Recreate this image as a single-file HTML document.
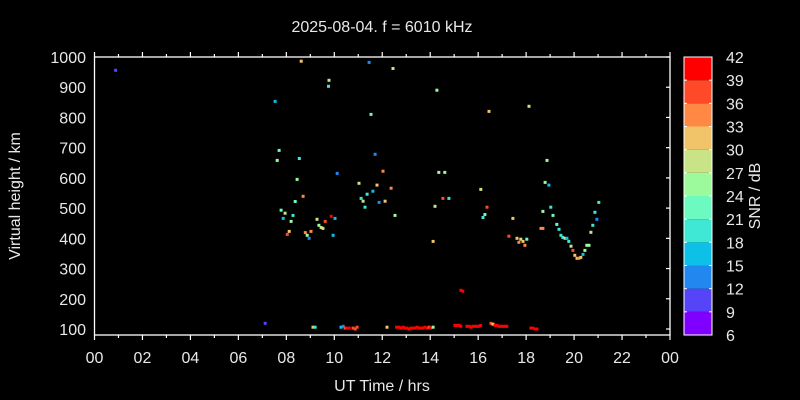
<!DOCTYPE html>
<html><head><meta charset="utf-8"><style>
html,body{margin:0;padding:0;background:#000;}
svg{display:block;font-family:"Liberation Sans",sans-serif;}
</style></head><body>
<svg id="chart" width="800" height="400" viewBox="0 0 800 400">
<rect x="0" y="0" width="800" height="400" fill="#000"/>
<text x="382" y="32" font-size="16" fill="#e8e8e8" text-anchor="middle">2025-08-04. f = 6010 kHz</text>
<text x="382" y="391" font-size="16" fill="#e8e8e8" text-anchor="middle">UT Time / hrs</text>
<text transform="translate(20,196) rotate(-90)" font-size="16" fill="#e8e8e8" text-anchor="middle">Virtual height / km</text>
<text transform="translate(760,196) rotate(-90)" font-size="16" fill="#e8e8e8" text-anchor="middle">SNR / dB</text>
<g id="plot"></g>
<g id="cbar"></g>
</svg>
<script>
const xTicks = ["00","02","04","06","08","10","12","14","16","18","20","22","00"];
const yTicks = [100,200,300,400,500,600,700,800,900,1000];
const cbTicks = [6,9,12,15,18,21,24,27,30,33,36,39,42];
const cbColors = ["#8000ff","#5544f8","#2288f0","#0cc0e8","#3ee8d4","#6cfac0","#9cfa9c","#c8e486","#f2c46a","#ff8844","#ff4a2a","#ff0000"];
const hours = [0.88,8.62,9.78,9.76,7.53,7.7,7.62,8.54,10.12,8.45,8.7,8.37,7.78,7.95,7.87,8.28,8.2,9.28,9.36,9.45,9.53,9.62,9.87,10.03,8.12,8.04,8.79,9.03,8.87,8.95,9.95,7.12,9.11,9.2,
11.45,12.45,14.28,11.53,16.45,18.12,11.7,18.87,12.03,14.36,14.61,11.03,11.78,18.79,18.95,12.37,16.11,11.61,11.37,11.12,11.2,14.53,14.78,11.87,12.12,11.28,14.2,16.37,19.03,12.53,18.7,19.12,16.28,16.2,17.45,21.03,20.87,20.95,19.28,20.78,19.37,18.62,18.7,20.7,19.45,19.53,19.62,19.7,19.78,17.28,17.62,17.7,17.78,17.87,18.03,17.95,14.12,19.87,19.95,20.45,20.53,20.62,20.03,20.12,20.2,20.28,20.37,15.28,15.36,
10.28,10.37,10.45,10.53,10.62,10.78,10.87,10.95,12.2,12.6,12.7,12.78,12.87,12.95,13.03,13.12,13.2,13.28,13.37,13.45,13.53,13.62,13.7,13.78,13.87,13.95,14.03,14.12,15.03,15.12,15.2,15.28,15.53,15.62,15.7,15.78,15.87,15.95,16.03,16.1,16.53,16.62,16.7,16.78,16.87,16.95,17.03,17.12,17.2,18.2,18.28,18.37,18.45];
const heights = [956,986,923,903,853,691,658,664,615,595,539,522,493,483,466,476,456,463,443,436,433,456,473,466,423,413,419,423,410,400,410,119,106,106,
982,962,890,810,820,837,678,658,622,618,618,582,576,585,576,566,562,556,546,532,523,532,532,519,523,503,506,503,503,476,489,476,479,469,466,519,486,463,446,443,430,433,433,420,410,403,400,400,390,407,400,387,397,390,397,377,390,374,360,360,377,377,344,334,334,337,347,228,225,
106,109,103,103,103,103,100,106,106,106,106,103,106,103,103,100,103,103,103,106,103,103,103,106,103,106,103,106,112,112,112,109,109,109,106,109,109,109,109,112,119,116,112,112,109,109,109,109,109,103,103,100,100];
const snrs = [10,31,28,20,16,22,25,20,13,25,35,22,23,28,16,19,25,28,24,27,27,38,41,16,31,37,35,35,24,13,17,10,31,19,
13,28,24,22,31,28,13,24,35,25,25,28,32,24,17,35,28,17,18,20,28,37,20,14,31,19,28,36,19,24,24,23,22,20,31,19,20,14,22,19,19,34,34,28,19,20,28,17,19,38,31,34,28,32,23,34,31,28,37,24,24,24,31,31,34,31,17,41,41,
17,13,38,41,41,38,38,36,31,41,41,41,41,41,41,41,41,41,41,41,41,41,41,41,41,36,41,24,41,41,41,41,41,41,41,41,41,41,41,41,36,31,41,41,41,41,41,41,41,41,41,41,41];
const NS="http://www.w3.org/2000/svg";
const X0=94.5,X1=670,Y0=57,Y1=335;
const xs=h=>X0+(X1-X0)*h/24;
const ys=v=>57+(1000-v)*272/900;
function mk(t,a,p){const e=document.createElementNS(NS,t);for(const k in a)e.setAttribute(k,a[k]);p.appendChild(e);return e;}
const plot=document.getElementById('plot');
const cb=document.getElementById('cbar');
function color(s){let i=Math.floor((s-6)/3);if(i<0)i=0;if(i>11)i=11;return cbColors[i];}
for(let i=0;i<hours.length;i++){
 const r=mk('rect',{x:(xs(hours[i])-1.5).toFixed(1),y:(ys(heights[i])-1.5).toFixed(1),width:3,height:3,fill:color(snrs[i])},plot);
 
 
}
const fr=mk('rect',{x:X0,y:Y0,width:X1-X0,height:Y1-Y0,fill:'none',stroke:'#fff','stroke-width':1.3},plot);


for(let h=0;h<=24;h++){
 const x=xs(h),L=(h%2===0)?5:3;
 const t1=mk('line',{x1:x,x2:x,y1:Y0,y2:Y0-L,stroke:'#fff','stroke-width':1.2},plot);
 
 
 const t2=mk('line',{x1:x,x2:x,y1:Y1,y2:Y1+L,stroke:'#fff','stroke-width':1.2},plot);
 
 
}
xTicks.forEach((lab,i)=>{
 const t=mk('text',{x:xs(i*2),y:363,'font-size':16,fill:'#e8e8e8','text-anchor':'middle'},plot);
 
 
 t.textContent=lab;
});
yTicks.forEach(v=>{
 const y=ys(v);
 const l=mk('line',{x1:X1,x2:X1-4,y1:y,y2:y,stroke:'#fff','stroke-width':1.2},plot);
 
 
 const t=mk('text',{x:86,y:y+6,'font-size':16,fill:'#e8e8e8','text-anchor':'end'},plot);
 
 
 t.textContent=v;
});
const CX=684,CW=28,CY0=57,CY1=335;
const cy=s=>CY1-(CY1-CY0)*(s-6)/36;
cbColors.forEach((c,i)=>{
 const r=mk('rect',{x:CX,y:cy(cbTicks[i+1]),width:CW,height:cy(cbTicks[i])-cy(cbTicks[i+1]),fill:c},cb);
 
 
});
const cf=mk('rect',{x:CX,y:CY0,width:CW,height:CY1-CY0,fill:'none',stroke:'#fff','stroke-width':1},cb);


cbTicks.forEach(s=>{
 const y=cy(s);
 const l=mk('line',{x1:CX+CW-3,x2:CX+CW,y1:y,y2:y,stroke:'#fff','stroke-width':1},cb);
 
 
 const l2=mk('line',{x1:CX,x2:CX+3,y1:y,y2:y,stroke:'#fff','stroke-width':1},cb);
 
 
 const t=mk('text',{x:726,y:y+6,'font-size':16,fill:'#e8e8e8'},cb);
 
 
 t.textContent=s;
});
</script>
</body></html>
